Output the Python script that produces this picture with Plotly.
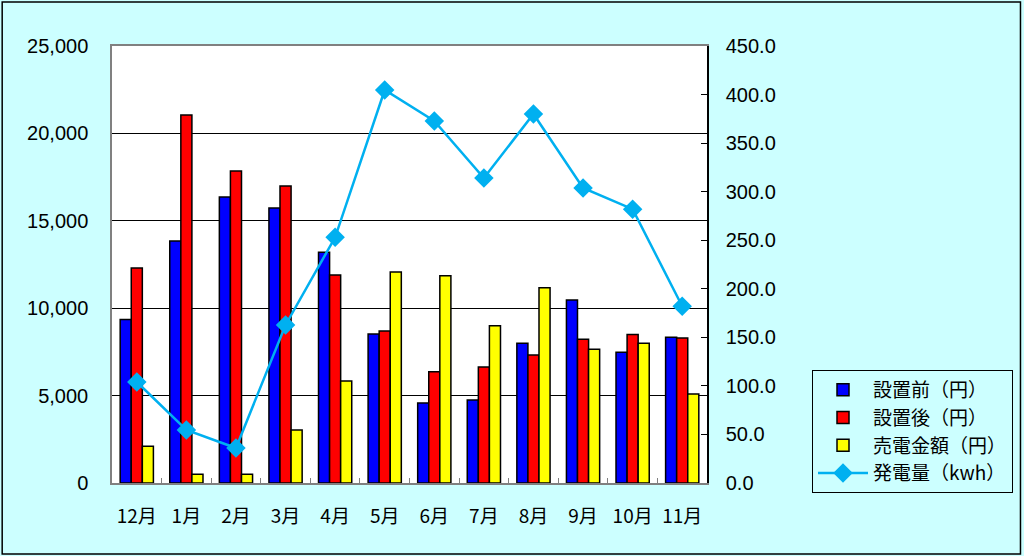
import plotly.graph_objects as go

months = ["12月", "1月", "2月", "3月", "4月", "5月", "6月", "7月", "8月", "9月", "10月", "11月"]
before = [9350, 13840, 16360, 15730, 13200, 8520, 4580, 4750, 7990, 10470, 7480, 8340]
after = [12300, 21050, 17850, 16990, 11900, 8700, 6370, 6640, 7320, 8220, 8500, 8300]
sold = [2100, 500, 500, 3030, 5830, 12070, 11860, 9000, 11170, 7650, 7990, 5090]
generation = [104, 54.6, 36, 162.7, 253, 404.7, 372.8, 314, 380, 303.8, 282, 182]

series_names = ["設置前（円）", "設置後（円）", "売電金額（円）", "発電量（kwh）"]
bar_colors = ["#0000FF", "#FF0000", "#FFFF00"]
line_color = "#00B0F0"
bg = "#CCFFFF"

fig = go.Figure()
for vals, name, col in zip([before, after, sold], series_names[:3], bar_colors):
    fig.add_trace(go.Bar(x=months, y=vals, name=name,
                         marker=dict(color=col, line=dict(color="black", width=1.5))))
fig.add_trace(go.Scatter(x=months, y=generation, name=series_names[3], yaxis="y2",
                         mode="lines+markers",
                         line=dict(color=line_color, width=2.5),
                         marker=dict(symbol="diamond", size=15, color=line_color)))

W, H = 1024, 556
L, R, T, B = 112, 316, 46, 73
pw, ph = W - L - R, H - T - B

def px(x):
    return (x - L) / pw

def py(y):
    return (H - B - y) / ph

fig.update_layout(
    width=W, height=H,
    margin=dict(l=L, r=R, t=T, b=B),
    paper_bgcolor=bg, plot_bgcolor="white",
    barmode="group", bargap=0.33, bargroupgap=0,
    font=dict(family="Liberation Sans, Arial, sans-serif", size=20, color="black"),
    xaxis=dict(type="category", range=[-0.5, len(months) - 0.5], autorange=False,
               tickfont=dict(family="Noto Sans CJK JP", size=19),
               tickangle=0,
               showline=True, linecolor="#808080", linewidth=1.5, mirror=True,
               ticks="inside", tickson="boundaries", ticklen=5, tickcolor="#808080",
               showgrid=False, ticklabelstandoff=15),
    yaxis=dict(range=[0, 25000], dtick=5000, tickformat=",d",
               showgrid=True, gridcolor="black", gridwidth=1,
               showline=True, linecolor="#808080", linewidth=1.5,
               ticks="", zeroline=False, ticklabelstandoff=18),
    yaxis2=dict(range=[0, 450], dtick=50, tickformat=".1f", overlaying="y", side="right",
                showgrid=False, showline=True, linecolor="black", linewidth=1.5,
                ticks="inside", ticklen=6, tickcolor="black", zeroline=False,
                ticklabelstandoff=13),
    legend=dict(x=px(812), y=py(370), xanchor="left", yanchor="top",
                bgcolor=bg, bordercolor="black", borderwidth=1,
                font=dict(family="Noto Sans CJK JP", size=19),
                traceorder="normal", tracegroupgap=0, itemwidth=50),
    shapes=[dict(type="rect", xref="paper", yref="paper",
                 x0=px(2), x1=px(1022), y0=py(554), y1=py(2),
                 line=dict(color="black", width=1.5), fillcolor="rgba(0,0,0,0)", layer="below")],
    showlegend=True,
)

fig.write_html("out.html", config={"displayModeBar": False},
               post_script="document.body.style.margin='0';document.body.style.background='#CCFFFF';")
